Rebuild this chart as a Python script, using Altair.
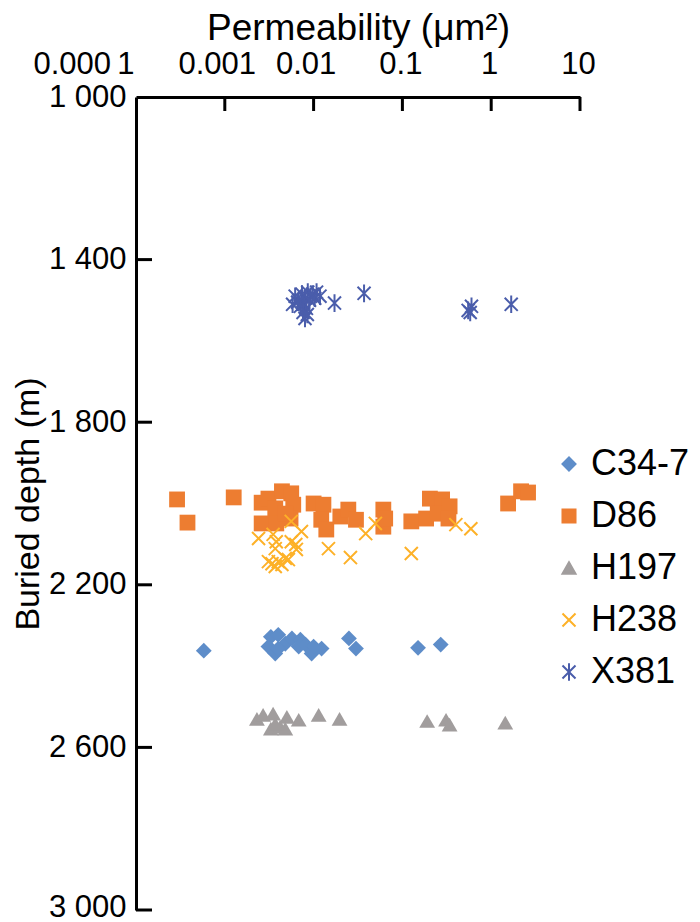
import altair as alt
import pandas as pd

# ---------------- data ----------------
series_names = ["C34-7", "D86", "H197", "H238", "X381"]
series_colors = ["#5E8DC9", "#ED7D31", "#A19D9D", "#FDB128", "#4A5DAB"]
series_shapes = [
    "diamond",
    "square",
    "triangle-up",
    "M-1,-1L1,1M-1,1L1,-1",
    "M-1,-1L1,1M-1,1L1,-1M0,-1.35L0,1.35",
]

c34_perm = [0.00058, 0.0033, 0.0040, 0.0031, 0.0037, 0.0048, 0.0057, 0.0071, 0.0068,
            0.0081, 0.0095, 0.0123, 0.0100, 0.0040, 0.025, 0.030, 0.15, 0.27]
c34_depth = [2362, 2328, 2323, 2352, 2369, 2345, 2332, 2335, 2352,
             2347, 2369, 2357, 2352, 2357, 2332, 2357, 2355, 2347]

d86_perm = [0.00029, 0.00038, 0.00126, 0.0026, 0.0031, 0.0044, 0.0056, 0.0059, 0.0037,
            0.0026, 0.0038, 0.0055, 0.0048, 0.0100, 0.0129, 0.0122, 0.0139, 0.020,
            0.0246, 0.030, 0.061, 0.061, 0.064, 0.126, 0.185, 0.204, 0.28, 0.25,
            0.34, 0.33, 1.55, 2.17, 2.6]
d86_depth = [1990, 2047, 1985, 1998, 1988, 1970, 1975, 2003, 2012,
             2049, 2049, 2037, 2025, 2000, 2003, 2040, 2064, 2032,
             2015, 2040, 2015, 2057, 2037, 2044, 2037, 1988, 1990, 2025,
             2007, 2037, 2000, 1970, 1973]

h197_perm = [0.0023, 0.0027, 0.0035, 0.0050, 0.0068, 0.0033, 0.0042, 0.0048, 0.0037,
             0.0114, 0.0196, 0.19, 0.31, 0.34, 1.44]
h197_depth = [2530, 2520, 2517, 2525, 2532, 2554, 2549, 2554, 2542,
              2520, 2530, 2535, 2532, 2544, 2539]

h238_perm = [0.0056, 0.0024, 0.0035, 0.0037, 0.0038, 0.0056, 0.0063, 0.0064, 0.0073,
             0.0048, 0.0034, 0.0040, 0.0037, 0.0044, 0.0052, 0.0031, 0.0147, 0.026,
             0.0386, 0.0496, 0.126, 0.40, 0.59]
h238_depth = [2044, 2086, 2076, 2111, 2094, 2094, 2101, 2113, 2069,
              2135, 2148, 2143, 2155, 2150, 2138, 2143, 2111, 2133,
              2074, 2049, 2123, 2052, 2062]

x381_perm = [0.0062, 0.0068, 0.0074, 0.0080, 0.0086, 0.0092, 0.0097, 0.0078, 0.0083,
             0.0071, 0.0066, 0.0090, 0.0103, 0.0076, 0.0080, 0.0085, 0.0058, 0.0108,
             0.0118, 0.0172, 0.037, 0.55, 0.60, 0.58, 1.68]
x381_depth = [1490, 1500, 1485, 1495, 1480, 1490, 1485, 1510, 1520,
              1515, 1505, 1500, 1495, 1530, 1545, 1535, 1510, 1480,
              1490, 1507, 1483, 1525, 1515, 1530, 1510]

x_tick_values = [0.0001, 0.001, 0.01, 0.1, 1, 10]
x_tick_labels = ["0.000\u20091", "0.001", "0.01", "0.1", "1", "10"]
y_tick_values = [1000, 1400, 1800, 2200, 2600, 3000]

# ---------------- build table ----------------
rows = []
for name, perms, depths in [
    ("C34-7", c34_perm, c34_depth),
    ("D86", d86_perm, d86_depth),
    ("H197", h197_perm, h197_depth),
    ("H238", h238_perm, h238_depth),
    ("X381", x381_perm, x381_depth),
]:
    for p, d in zip(perms, depths):
        rows.append({"series": name, "perm": p, "depth": d})
df = pd.DataFrame(rows)
df["order"] = df["series"].map({n: i for i, n in enumerate(series_names)})

# label expression built from the tick lists
expr = "'" + x_tick_labels[-1] + "'"
for v, lab in reversed(list(zip(x_tick_values[:-1], x_tick_labels[:-1]))):
    expr = f"datum.value < {v * 1.5} ? '{lab}' : " + expr

FONT = "Liberation Sans"

xscale = alt.Scale(type="log", domain=[0.0001, 10], nice=False)
yscale = alt.Scale(domain=[1000, 3000], reverse=True, nice=False)

points = alt.Chart(df).mark_point(filled=True, opacity=1).encode(
    x=alt.X(
        "perm:Q",
        scale=xscale,
        axis=alt.Axis(
            orient="top",
            title="Permeability (μm²)",
            values=x_tick_values,
            labelExpr=expr,
            ticks=False,
            grid=False,
            domainColor="black",
            domainWidth=3,
            labelFont=FONT,
            labelFontSize=31,
            labelColor="black",
            labelPadding=17,
            labelAlign=alt.condition("datum.value < 0.0005", alt.value("right"), alt.value("center")),
            labelOffset=alt.condition(
                "datum.value > 0.0005 && datum.value < 0.05", alt.value(-8), alt.value(-2)
            ),
            labelFlush=False,
            labelOverlap=False,
            titleFont=FONT,
            titleFontSize=37,
            titleFontWeight="normal",
            titleColor="black",
            titlePadding=1,
        ),
    ),
    y=alt.Y(
        "depth:Q",
        scale=yscale,
        axis=alt.Axis(
            orient="left",
            title="Buried depth (m)",
            values=y_tick_values,
            labelExpr="replace(format(datum.value, ','), ',', ' ')",
            ticks=False,
            grid=False,
            domainColor="black",
            domainWidth=3,
            labelFont=FONT,
            labelFontSize=31,
            labelColor="black",
            labelPadding=10,
            labelOffset=alt.condition("datum.value > 2900", alt.value(-3), alt.value(0)),
            labelFlush=False,
            labelOverlap=False,
            titleFont=FONT,
            titleFontSize=34,
            titleFontWeight="normal",
            titleColor="black",
            titlePadding=3,
        ),
    ),
    color=alt.Color(
        "series:N",
        scale=alt.Scale(domain=series_names, range=series_colors),
        legend=alt.Legend(
            title=None,
            orient="none",
            legendX=415,
            legendY=349,
            labelFont=FONT,
            labelFontSize=36,
            labelColor="black",
            labelOffset=4,
            symbolSize=170,
            symbolStrokeWidth=2,
            rowPadding=16,
            padding=0,
        ),
    ),
    shape=alt.Shape(
        "series:N",
        scale=alt.Scale(domain=series_names, range=series_shapes),
    ),
    stroke=alt.Stroke(
        "series:N",
        scale=alt.Scale(domain=series_names, range=series_colors),
    ),
    strokeWidth=alt.condition(
        "datum.series == 'H238' || datum.series == 'X381'", alt.value(2), alt.value(0)
    ),
    size=alt.condition(
        "datum.series == 'H238' || datum.series == 'X381'", alt.value(170), alt.value(250)
    ),
    order=alt.Order("order:Q"),
)

xt = pd.DataFrame({"perm": x_tick_values[1:]})
x_ticks = alt.Chart(xt).mark_rule(color="black", strokeWidth=3).encode(
    x=alt.X("perm:Q", scale=xscale),
    y=alt.value(0),
    y2=alt.value(14),
)

yt = pd.DataFrame({"depth": y_tick_values[1:]})
y_ticks = alt.Chart(yt).mark_rule(color="black", strokeWidth=3).encode(
    y=alt.Y("depth:Q", scale=yscale),
    x=alt.value(0),
    x2=alt.value(16),
)

chart = (
    alt.layer(points, x_ticks, y_ticks)
    .properties(
        width=444,
        height=813,
        background="white",
        autosize=alt.AutoSizeParams(type="none"),
        padding={"left": 128, "top": 89, "right": 112, "bottom": 12},
    )
    .configure_view(strokeWidth=0)
    .configure_axis(grid=False)
)

chart.save("out.html", embed_options={"renderer": "svg", "actions": False})
